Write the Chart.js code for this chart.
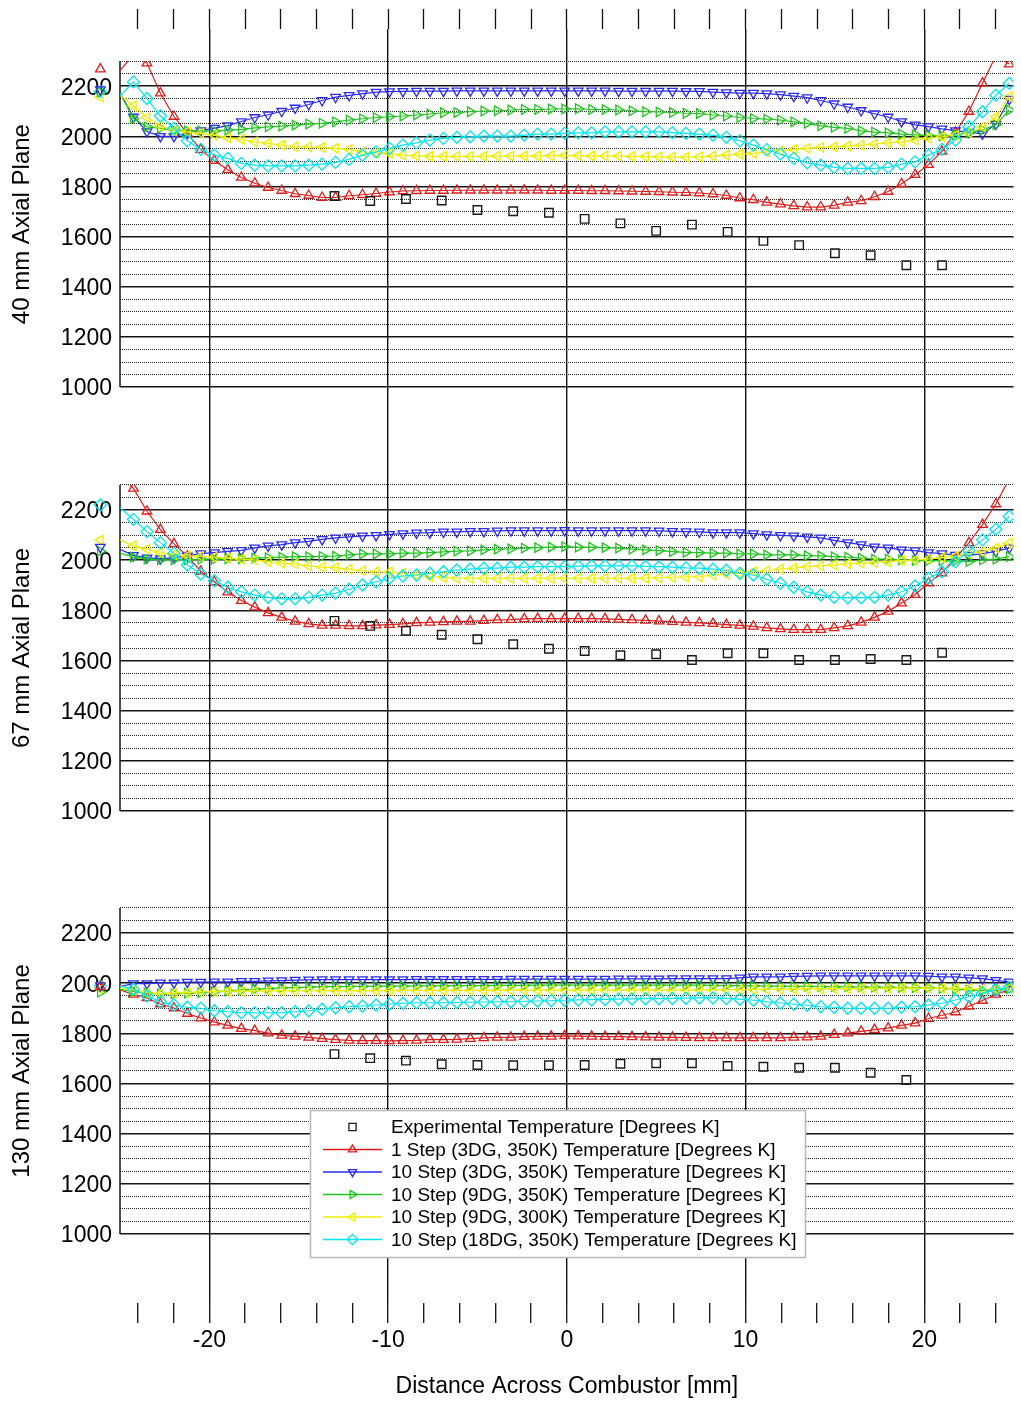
<!DOCTYPE html>
<html>
<head>
<meta charset="utf-8">
<script src="https://cdn.jsdelivr.net/npm/chart.js@4/dist/chart.umd.min.js"></script>
<style>
html,body{margin:0;padding:0;background:#fff;}
#wrap{width:1021px;height:1401px;position:relative;}
</style>
</head>
<body>
<div id="wrap"><canvas id="c" width="1021" height="1401"></canvas></div>
<script>
// ---------- data ----------
const xPositions = [-25.00,-24.25,-23.49,-22.74,-21.98,-21.23,-20.48,-19.72,-18.97,-18.21,
 -17.46,-16.71,-15.95,-15.20,-14.44,-13.69,-12.94,-12.18,-11.43,-10.67,
 -9.92,-9.17,-8.41,-7.66,-6.90,-6.15,-5.40,-4.64,-3.89,-3.13,
 -2.38,-1.63,-0.87,-0.12,0.64,1.39,2.14,2.90,3.65,4.41,
 5.16,5.91,6.67,7.42,8.18,8.93,9.68,10.44,11.19,11.95,
 12.70,13.45,14.21,14.96,15.72,16.47,17.22,17.98,18.73,19.49,
 20.24,20.99,21.75,22.50,23.26,24.01,24.76];

const expX = [-13,-11,-9,-7,-5,-3,-1,1,3,5,7,9,11,13,15,17,19,21];

// wall markers drawn just outside the left frame (order: red, blue, green, yellow, cyan)
const wallX = -26.1;
const p1Wall = [2268,2186,2176,2156,2178];
const p2Wall = [null,2052,2036,2080,2220];
const p3Wall = [1985,1990,1964,1976,1988];

// 40 mm axial plane
const p1Exp = [1762,1742,1750,1744,1706,1701,1695,1671,1653,1623,1648,1619,1583,1566,1534,1526,1486,1486];
const p1Red = [2262,2325,2292,2172,2079,2011,1947,1903,1867,1836,
 1813,1796,1784,1771,1764,1756,1756,1763,1767,1772,
 1778,1782,1783,1784,1784,1785,1785,1785,1785,1785,
 1785,1785,1784,1784,1784,1783,1783,1782,1781,1780,
 1779,1777,1776,1774,1770,1764,1754,1747,1737,1730,
 1723,1718,1718,1725,1737,1743,1759,1780,1811,1847,
 1887,1940,2016,2099,2212,2322,2288];
const p1Blue = [2175,2077,2019,2000,2000,2012,2023,2033,2043,2059,
 2075,2086,2100,2113,2127,2143,2156,2163,2170,2176,
 2178,2179,2180,2180,2180,2181,2181,2181,2181,2181,
 2181,2181,2181,2181,2181,2181,2181,2180,2180,2180,
 2180,2180,2179,2179,2176,2174,2172,2172,2170,2166,
 2160,2154,2143,2130,2117,2103,2090,2077,2059,2046,
 2039,2030,2023,2017,2010,2049,2148];
const p1Green = [2172,2071,2038,2032,2025,2022,2022,2021,2025,2028,
 2034,2038,2041,2045,2049,2052,2058,2065,2070,2075,
 2078,2081,2085,2089,2094,2095,2098,2101,2102,2105,
 2107,2107,2109,2109,2110,2107,2107,2105,2102,2098,
 2097,2095,2092,2091,2085,2081,2075,2071,2069,2065,
 2058,2052,2042,2036,2032,2022,2017,2014,2009,2006,
 2003,2002,2006,2014,2026,2046,2105];
const p1Yellow = [2165,2121,2075,2041,2022,2018,2012,2005,1994,1988,
 1978,1972,1965,1958,1958,1956,1952,1948,1938,1934,
 1932,1925,1922,1920,1920,1920,1920,1920,1921,1921,
 1922,1922,1923,1924,1923,1922,1922,1921,1920,1919,
 1918,1917,1917,1918,1921,1925,1929,1932,1938,1942,
 1948,1952,1956,1958,1961,1965,1969,1974,1978,1985,
 1992,1998,2005,2014,2038,2078,2158];
const p1Cyan = [2160,2217,2151,2081,2032,1982,1948,1925,1912,1892,
 1885,1882,1882,1882,1885,1889,1896,1908,1925,1938,
 1952,1965,1974,1985,1992,1996,1998,2001,2001,2001,
 2005,2009,2009,2012,2014,2014,2018,2018,2018,2018,
 2018,2015,2012,2009,2005,1996,1982,1965,1947,1929,
 1912,1894,1885,1876,1872,1872,1872,1876,1889,1898,
 1925,1948,1985,2038,2098,2164,2211];

// 67 mm axial plane
const p2Exp = [1758,1738,1719,1703,1685,1665,1647,1638,1621,1625,1602,1629,1629,1602,1602,1606,1602,1631];
const p2Red = [2345,2286,2195,2122,2065,2016,1956,1913,1873,1839,
 1813,1790,1772,1756,1746,1740,1740,1738,1738,1741,
 1743,1746,1750,1752,1754,1756,1756,1759,1762,1763,
 1766,1767,1767,1767,1767,1767,1766,1764,1762,1760,
 1757,1755,1752,1750,1747,1743,1740,1736,1730,1726,
 1723,1723,1723,1730,1738,1752,1772,1796,1829,1863,
 1909,1949,2009,2069,2142,2224,2325];
const p2Blue = [2043,2019,2009,2006,2009,2017,2026,2030,2035,2039,
 2049,2057,2062,2070,2075,2083,2089,2093,2097,2099,
 2103,2106,2109,2110,2113,2113,2115,2115,2117,2118,
 2118,2118,2118,2119,2118,2118,2118,2118,2118,2118,
 2117,2115,2114,2113,2110,2110,2110,2106,2102,2099,
 2097,2093,2089,2079,2070,2062,2053,2049,2041,2038,
 2030,2026,2020,2019,2026,2035,2049];
const p2Green = [2028,2012,2004,2001,2001,2001,2004,2004,2005,2005,
 2008,2010,2012,2014,2014,2015,2016,2021,2025,2025,
 2025,2028,2028,2030,2033,2036,2037,2041,2044,2045,
 2048,2050,2052,2054,2052,2052,2050,2048,2044,2041,
 2038,2034,2031,2030,2028,2028,2025,2025,2021,2021,
 2021,2018,2017,2014,2012,2008,2004,2004,2001,1998,
 1998,1998,1997,1994,2001,2004,2014];
const p2Yellow = [2081,2057,2044,2030,2021,2017,2015,2012,2008,2004,
 2001,1994,1988,1985,1977,1972,1970,1964,1958,1954,
 1953,1948,1941,1934,1932,1929,1928,1928,1928,1928,
 1928,1928,1928,1928,1928,1928,1928,1928,1928,1929,
 1930,1932,1933,1934,1941,1945,1948,1954,1958,1964,
 1968,1974,1977,1981,1985,1988,1990,1994,1998,2001,
 2004,2010,2016,2026,2034,2048,2068];
const p2Cyan = [2209,2163,2114,2070,2028,1981,1945,1918,1892,1874,
 1861,1852,1846,1846,1852,1861,1869,1884,1901,1914,
 1928,1937,1941,1948,1954,1961,1964,1968,1968,1972,
 1972,1974,1974,1974,1976,1977,1977,1977,1977,1975,
 1974,1972,1969,1968,1964,1960,1948,1941,1924,1908,
 1892,1874,1861,1852,1850,1850,1852,1861,1874,1897,
 1928,1954,1994,2038,2081,2123,2174];

// 130 mm axial plane
const p3Exp = [1717,1701,1691,1677,1674,1673,1673,1674,1679,1681,1681,1670,1667,1663,1663,1643,1614,null];
const p3Red = [1973,1955,1941,1917,1901,1879,1861,1845,1832,1819,
 1811,1801,1792,1788,1784,1779,1775,1772,1771,1771,
 1770,1771,1772,1775,1775,1776,1779,1782,1784,1784,
 1787,1788,1788,1790,1789,1788,1787,1787,1786,1785,
 1784,1784,1783,1782,1782,1782,1782,1782,1782,1782,
 1784,1785,1788,1795,1801,1808,1815,1821,1832,1841,
 1859,1872,1885,1908,1931,1955,1975];
const p3Blue = [1986,1998,1998,2001,2001,2004,2004,2005,2005,2007,
 2007,2009,2010,2012,2013,2014,2014,2014,2014,2014,
 2014,2014,2015,2015,2015,2015,2015,2015,2015,2016,
 2016,2016,2016,2016,2016,2016,2016,2017,2017,2017,
 2017,2018,2018,2018,2018,2018,2021,2025,2025,2025,
 2027,2028,2029,2029,2029,2029,2029,2029,2029,2029,
 2028,2025,2025,2021,2018,2011,2005];
const p3Green = [1975,1966,1960,1957,1957,1960,1962,1966,1969,1973,
 1976,1978,1981,1982,1984,1986,1986,1987,1987,1988,
 1988,1988,1989,1989,1989,1990,1990,1990,1991,1991,
 1991,1992,1992,1992,1992,1992,1992,1992,1992,1992,
 1992,1992,1992,1992,1991,1990,1990,1989,1988,1988,
 1987,1987,1986,1986,1985,1985,1984,1984,1983,1982,
 1981,1979,1976,1972,1970,1972,1978];
const p3Yellow = [1980,1972,1962,1958,1960,1962,1965,1966,1968,1968,
 1969,1969,1970,1970,1970,1970,1970,1970,1970,1970,
 1970,1971,1971,1971,1971,1971,1971,1971,1972,1972,
 1972,1972,1972,1972,1972,1972,1972,1972,1972,1972,
 1972,1972,1972,1973,1973,1974,1974,1975,1975,1976,
 1976,1977,1977,1978,1978,1978,1979,1979,1980,1980,
 1980,1980,1979,1978,1975,1976,1980];
const p3Cyan = [1988,1976,1949,1926,1913,1904,1900,1890,1886,1882,
 1882,1882,1882,1886,1890,1896,1902,1906,1909,1913,
 1916,1920,1922,1922,1922,1923,1924,1925,1926,1926,
 1928,1929,1930,1932,1933,1934,1935,1936,1937,1938,
 1938,1939,1940,1941,1941,1939,1936,1932,1926,1921,
 1916,1912,1906,1904,1900,1900,1900,1900,1904,1906,
 1913,1920,1933,1946,1960,1973,1984];

// ticks
const xTickValues = [-24,-22,-20,-18,-16,-14,-12,-10,-8,-6,-4,-2,0,2,4,6,8,10,12,14,16,18,20,22,24];
const xLabelValues = [-20,-10,0,10,20];
const yGridValues = [1000,1050,1100,1150,1200,1250,1300,1350,1400,1450,1500,1550,1600,1650,1700,1750,1800,1850,1900,1950,2000,2050,2100,2150,2200,2250,2300];
const yLabelValues = [1000,1200,1400,1600,1800,2000,2200];

// ---------- styling / layout ----------
const FONT = "'Liberation Sans', Arial, Helvetica, sans-serif";
Chart.defaults.font.family = FONT;
Chart.defaults.color = '#000';

const EXP = {label:'Experimental Temperature [Degrees K]', color:'#1a1a1a', style:'rect', rot:0, r:6};
const SERIES = [
  {key:'red',    label:'1 Step (3DG, 350K) Temperature [Degrees K]',   color:'#e01b1b', style:'triangle', rot:0,   r:5.5, order:5},
  {key:'blue',   label:'10 Step (3DG, 350K) Temperature [Degrees K]',  color:'#2b2bf0', style:'triangle', rot:180, r:5.5, order:4},
  {key:'green',  label:'10 Step (9DG, 350K) Temperature [Degrees K]',  color:'#1fc41f', style:'triangle', rot:90,  r:5.5, order:3},
  {key:'yellow', label:'10 Step (9DG, 300K) Temperature [Degrees K]',  color:'#eeee00', style:'triangle', rot:270, r:5.5, order:2},
  {key:'cyan',   label:'10 Step (18DG, 350K) Temperature [Degrees K]', color:'#00e6f0', style:'rectRot',  rot:0,   r:6,   order:1}
];

// each panel axis is one piece of a vertical stack; share = part of plot height, rank = top-to-bottom order
const PANELS = [
  {id:'y1', title:'40 mm Axial Plane',  min:805, max:2428, share:407, rank:3, wall:p1Wall, exp:p1Exp, red:p1Red, blue:p1Blue, green:p1Green, yellow:p1Yellow, cyan:p1Cyan},
  {id:'y2', title:'67 mm Axial Plane',  min:805, max:2495, share:424, rank:2, wall:p2Wall, exp:p2Exp, red:p2Red, blue:p2Blue, green:p2Green, yellow:p2Yellow, cyan:p2Cyan},
  {id:'y3', title:'130 mm Axial Plane', min:725, max:2491, share:443, rank:1, wall:p3Wall, exp:p3Exp, red:p3Red, blue:p3Blue, green:p3Green, yellow:p3Yellow, cyan:p3Cyan}
];
const PANEL_TOP = yGridValues[yGridValues.length - 1];
const PANEL_BOTTOM = yGridValues[0];

// ---------- datasets ----------
const datasets = [];
PANELS.forEach(p => {
  datasets.push({
    label: EXP.label, yAxisID: p.id, xAxisID: 'x', order: 0,
    data: expX.map((x, i) => ({x: x, y: p.exp[i]})),
    showLine: false, pointStyle: EXP.style, pointRadius: EXP.r,
    pointBorderColor: EXP.color, pointBackgroundColor: 'rgba(0,0,0,0)', pointBorderWidth: 1.4,
    borderColor: EXP.color
  });
  SERIES.forEach(s => {
    datasets.push({
      label: s.label, yAxisID: p.id, xAxisID: 'x', order: s.order,
      data: xPositions.map((x, i) => ({x: x, y: p[s.key][i]})),
      showLine: true, borderColor: s.color, borderWidth: 1.2, tension: 0,
      pointStyle: s.style, pointRotation: s.rot,
      pointRadius: c => (c.dataIndex === 0 ? 0 : s.r),
      pointBorderColor: s.color, pointBackgroundColor: 'rgba(0,0,0,0)', pointBorderWidth: 1.3
    });
  });
});

function yAxis(p) {
  const isMajor = c => c.tick && yLabelValues.includes(c.tick.value);
  return {
    type: 'linear', position: 'left', stack: 'panels', stackWeight: p.share, weight: p.rank,
    min: p.min, max: p.max,
    afterBuildTicks: ax => { ax.ticks = yGridValues.map(v => ({value: v})); },
    afterFit: ax => { ax.width = 120; },
    ticks: { autoSkip: false, padding: 8, labelOffset: 2, font: {size: 23}, color: '#000',
      callback: v => (yLabelValues.includes(v) ? String(v) : '') },
    grid: { drawTicks: false, color: c => (isMajor(c) ? '#141414' : '#262626'), lineWidth: c => (isMajor(c) ? 1.5 : 1) },
    border: { display: false, dash: c => (isMajor(c) ? [] : [1, 1]) }
  };
}

const xMajor = c => c.tick && xLabelValues.includes(c.tick.value);

// ---------- plugins ----------
const panelClip = {
  id: 'panelClip',
  beforeDatasetDraw(chart, args) {
    const ds = chart.data.datasets[args.index];
    const ys = chart.scales[ds.yAxisID];
    const a = chart.chartArea, ctx = chart.ctx;
    const top = ys.getPixelForValue(PANEL_TOP), bottom = ys.getPixelForValue(PANEL_BOTTOM);
    ctx.save();
    ctx.beginPath();
    ctx.rect(a.left, top, a.right - a.left, bottom - top);
    ctx.clip();
  },
  afterDatasetDraw(chart) { chart.ctx.restore(); }
};

function drawMarker(ctx, it, x, y) {
  const r = it.r;
  ctx.beginPath();
  if (it.style === 'rect') {
    const s = r * Math.SQRT1_2;
    ctx.rect(x - s, y - s, 2 * s, 2 * s);
  } else if (it.style === 'rectRot') {
    ctx.moveTo(x - r, y); ctx.lineTo(x, y - r); ctx.lineTo(x + r, y); ctx.lineTo(x, y + r); ctx.closePath();
  } else {
    let a = it.rot * Math.PI / 180;
    for (let k = 0; k < 3; k++) {
      const px = x + Math.sin(a) * r, py = y - Math.cos(a) * r;
      if (k === 0) ctx.moveTo(px, py); else ctx.lineTo(px, py);
      a += 2 * Math.PI / 3;
    }
    ctx.closePath();
  }
  ctx.strokeStyle = it.color; ctx.lineWidth = 1.3; ctx.stroke();
}

const panelFrames = {
  id: 'panelFrames',
  beforeDatasetsDraw(chart) {
    const ctx = chart.ctx, a = chart.chartArea;
    ctx.save();
    ctx.strokeStyle = '#111'; ctx.lineWidth = 1.5;
    PANELS.forEach(p => {
      const ys = chart.scales[p.id];
      ctx.beginPath();
      ctx.moveTo(a.left, ys.getPixelForValue(PANEL_TOP));
      ctx.lineTo(a.left, ys.getPixelForValue(PANEL_BOTTOM));
      ctx.stroke();
    });
    ctx.restore();
  },
  afterDatasetsDraw(chart) {
    const ctx = chart.ctx, xs = chart.scales.x;
    ctx.save();
    PANELS.forEach(p => {
      const ys = chart.scales[p.id];
      for (let i = SERIES.length - 1; i >= 0; i--) {
        const v = p.wall[i];
        if (v === null) continue;
        drawMarker(ctx, SERIES[i], xs.getPixelForValue(wallX), ys.getPixelForValue(v));
      }
    });
    ctx.restore();
  }
};

const LEGEND = {left: 310, top: 1110, width: 495, height: 147, rowTop: 1127, rowStep: 22.5, lineX0: 323, lineX1: 382, textX: 391};

const decorations = {
  id: 'decorations',
  afterDraw(chart) {
    const ctx = chart.ctx;
    ctx.save();
    ctx.fillStyle = '#000';
    ctx.font = '24px ' + FONT;
    ctx.textAlign = 'center'; ctx.textBaseline = 'middle';
    PANELS.forEach(p => {
      const ys = chart.scales[p.id];
      const cy = (ys.getPixelForValue(PANEL_TOP) + ys.getPixelForValue(PANEL_BOTTOM)) / 2;
      ctx.save(); ctx.translate(22, cy); ctx.rotate(-Math.PI / 2);
      ctx.fillText(p.title, 0, 0);
      ctx.restore();
    });
    const L = LEGEND;
    ctx.fillStyle = '#fff';
    ctx.fillRect(L.left, L.top, L.width, L.height);
    ctx.strokeStyle = '#b8b8b8'; ctx.lineWidth = 1.5;
    ctx.strokeRect(L.left + 0.5, L.top + 0.5, L.width, L.height);
    const items = [EXP].concat(SERIES);
    items.forEach((it, i) => {
      const y = L.rowTop + i * L.rowStep;
      if (it !== EXP) {
        ctx.beginPath(); ctx.moveTo(L.lineX0, y); ctx.lineTo(L.lineX1, y);
        ctx.strokeStyle = it.color; ctx.lineWidth = 1.3; ctx.stroke();
      }
      drawMarker(ctx, Object.assign({}, it, {r: it.r * 0.85}), (L.lineX0 + L.lineX1) / 2, y);
      ctx.fillStyle = '#000';
      ctx.font = '19px ' + FONT;
      ctx.textAlign = 'left'; ctx.textBaseline = 'middle';
      ctx.fillText(it.label, L.textX, y + 1);
    });
    ctx.restore();
  }
};

// ---------- chart ----------
new Chart(document.getElementById('c'), {
  type: 'scatter',
  data: { datasets: datasets },
  plugins: [panelClip, panelFrames, decorations],
  options: {
    responsive: false, animation: false, devicePixelRatio: 1, events: [],
    layout: { padding: {left: 0, right: 1, top: 0, bottom: 0} },
    plugins: { legend: {display: false}, title: {display: false}, tooltip: {enabled: false} },
    scales: {
      x: {
        type: 'linear', position: 'bottom', min: -25, max: 25,
        afterBuildTicks: ax => { ax.ticks = xTickValues.map(v => ({value: v})); },
        afterFit: ax => { ax.height = 98; },
        ticks: { autoSkip: false, maxRotation: 0, padding: 4, font: {size: 23}, color: '#000',
          callback: v => (xLabelValues.includes(v) ? String(v) : '') },
        grid: { drawOnChartArea: true, tickLength: 20, color: c => (xMajor(c) ? '#111' : 'rgba(0,0,0,0)'),
          lineWidth: 1.4, tickColor: '#111', tickWidth: 1.3 },
        border: { display: false },
        title: { display: true, text: 'Distance Across Combustor [mm]', font: {size: 23}, color: '#000', padding: {top: 0, bottom: 1} }
      },
      x2: {
        type: 'linear', position: 'top', min: -25, max: 25,
        afterBuildTicks: ax => { ax.ticks = xTickValues.map(v => ({value: v})); },
        afterFit: ax => { ax.height = 29; },
        ticks: { display: false, autoSkip: false },
        grid: { drawOnChartArea: false, tickLength: 20, tickColor: '#111', tickWidth: 1.3 },
        border: { display: false }
      },
      y1: yAxis(PANELS[0]),
      y2: yAxis(PANELS[1]),
      y3: yAxis(PANELS[2])
    }
  }
});
</script>
</body>
</html>
